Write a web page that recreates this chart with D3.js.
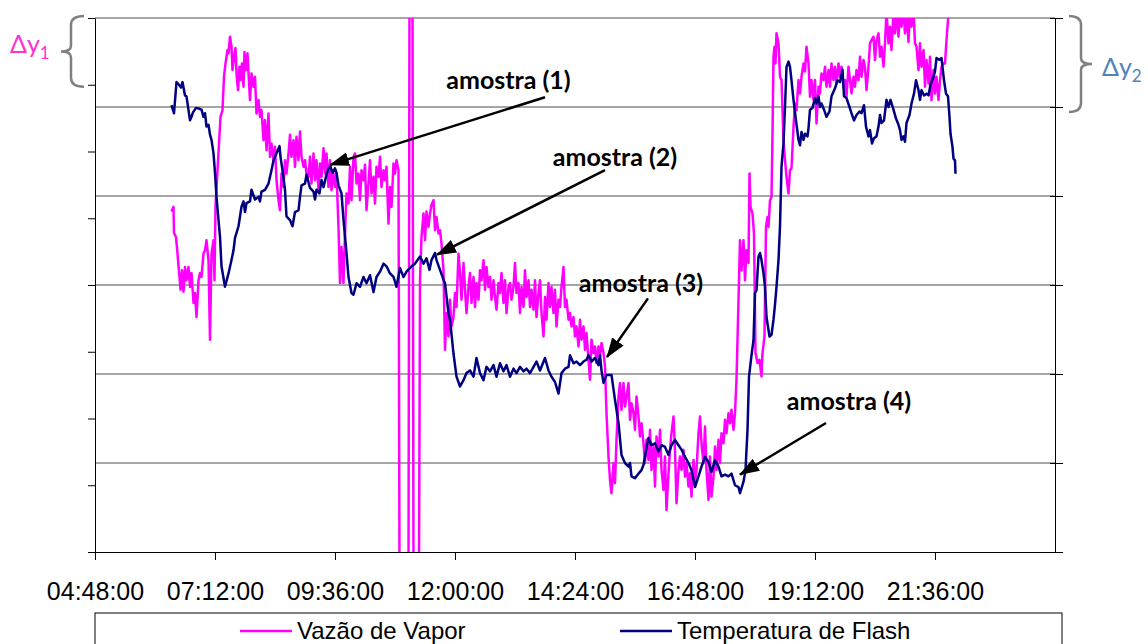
<!DOCTYPE html>
<html lang="pt">
<head>
<meta charset="UTF-8">
<script src="https://d3js.org/d3.v7.min.js"></script>
<style>
    body { margin: 0; background: #fff; }
    svg text { font-family: "Liberation Sans", Arial, sans-serif; fill: #000; }
    .nota { font-family: Lato, "Open Sans", sans-serif; font-weight: bold; font-size: 25px; }
    .delta { font-family: Lato, "Open Sans", sans-serif; font-size: 25px; }
</style>
</head>
<body>
<svg id="chart"></svg>
<script>
// eixo do tempo (horas decimais)
const horaTicks = [4.8, 7.2, 9.6, 12, 14.4, 16.8, 19.2, 21.6];
const rotulosHora = ["04:48:00", "07:12:00", "09:36:00", "12:00:00", "14:24:00", "16:48:00", "19:12:00", "21:36:00"];

// Vazão de Vapor [hora, valor] - eixo esquerdo
const vazao = [[6.33,5.10],[6.37,5.17],[6.38,4.78],[6.42,4.72],[6.45,4.47],[6.49,4.12],[6.51,3.93],[6.54,4.22],[6.57,3.90],[6.60,4.27],[6.63,4.07],[6.67,4.27],[6.70,3.97],[6.73,4.18],[6.77,3.73],[6.80,3.88],[6.83,3.52],[6.87,4.07],[6.90,4.18],[6.93,4.12],[6.97,4.47],[7.00,4.52],[7.03,4.67],[7.07,4.37],[7.10,3.18],[7.13,4.47],[7.17,4.67],[7.19,4.07],[7.21,5.17],[7.25,5.72],[7.28,6.12],[7.31,6.52],[7.35,6.62],[7.38,7.12],[7.41,7.32],[7.45,7.52],[7.47,7.47],[7.50,7.72],[7.53,7.57],[7.55,7.22],[7.58,7.42],[7.61,7.55],[7.63,7.17],[7.66,6.92],[7.69,7.27],[7.71,7.07],[7.74,7.32],[7.77,6.97],[7.79,7.49],[7.82,7.22],[7.85,7.47],[7.87,7.17],[7.90,6.77],[7.93,7.17],[7.97,6.97],[8.00,7.12],[8.03,6.57],[8.07,6.77],[8.10,6.52],[8.13,6.62],[8.17,6.17],[8.20,6.47],[8.23,6.02],[8.27,6.57],[8.30,5.92],[8.33,6.12],[8.37,5.87],[8.40,6.07],[8.43,5.57],[8.47,5.27],[8.50,5.12],[8.53,5.67],[8.57,5.47],[8.60,5.87],[8.63,5.67],[8.67,5.97],[8.70,6.25],[8.73,5.92],[8.77,6.17],[8.80,5.77],[8.83,6.22],[8.87,5.87],[8.90,6.30],[8.93,5.92],[8.97,5.77],[9.00,5.87],[9.03,5.67],[9.07,5.62],[9.10,5.92],[9.13,5.52],[9.17,5.97],[9.20,5.57],[9.23,5.87],[9.27,5.42],[9.30,5.82],[9.33,5.62],[9.37,6.05],[9.40,5.67],[9.43,5.97],[9.47,5.47],[9.50,5.87],[9.53,5.42],[9.57,5.67],[9.60,5.47],[9.63,5.67],[9.67,4.87],[9.70,4.03],[9.73,4.57],[9.77,4.03],[9.80,4.77],[9.83,5.37],[9.87,5.22],[9.90,5.77],[9.93,5.27],[9.97,5.92],[10.00,5.97],[10.03,5.52],[10.07,5.67],[10.10,5.27],[10.13,5.72],[10.17,5.57],[10.20,5.80],[10.23,5.12],[10.27,5.52],[10.30,5.87],[10.33,5.37],[10.37,5.62],[10.40,5.22],[10.43,5.77],[10.47,5.62],[10.50,5.92],[10.53,5.47],[10.57,5.72],[10.60,5.57],[10.63,5.77],[10.67,4.92],[10.70,5.47],[10.73,5.17],[10.77,5.82],[10.80,5.67],[10.83,5.87],[10.87,5.72],[10.89,-0.3],[11.07,-0.3],[11.09,8.3],[11.15,8.3],[11.17,-0.3],[11.28,-0.3],[11.30,4.07],[11.33,4.72],[11.37,5.07],[11.40,4.67],[11.43,5.10],[11.47,4.87],[11.50,5.07],[11.53,5.20],[11.57,5.27],[11.60,4.82],[11.63,5.02],[11.67,4.77],[11.70,4.82],[11.73,4.62],[11.77,4.22],[11.80,3.03],[11.83,3.58],[11.87,3.23],[11.90,3.78],[11.93,3.38],[11.97,3.52],[12.00,3.88],[12.03,3.67],[12.07,4.47],[12.10,4.18],[12.13,3.78],[12.17,4.33],[12.20,3.93],[12.23,3.58],[12.27,3.97],[12.30,4.18],[12.33,3.73],[12.37,4.12],[12.40,3.67],[12.43,4.03],[12.47,3.78],[12.50,4.22],[12.53,4.07],[12.57,4.37],[12.60,3.93],[12.63,4.27],[12.67,3.97],[12.70,4.12],[12.73,3.78],[12.77,4.07],[12.80,3.82],[12.83,3.63],[12.87,4.03],[12.90,3.88],[12.93,4.18],[12.97,3.73],[13.00,4.07],[13.03,3.58],[13.07,3.97],[13.10,4.03],[13.13,3.78],[13.17,3.97],[13.20,4.33],[13.23,3.88],[13.27,4.03],[13.30,3.58],[13.33,3.97],[13.37,3.67],[13.40,4.22],[13.43,3.82],[13.47,4.07],[13.50,3.67],[13.53,3.93],[13.57,3.63],[13.60,4.07],[13.63,3.52],[13.67,3.88],[13.70,4.07],[13.73,3.58],[13.77,3.23],[13.80,3.82],[13.83,3.48],[13.87,4.03],[13.90,3.67],[13.93,3.97],[13.97,3.58],[14.00,3.93],[14.03,3.38],[14.07,3.78],[14.10,3.67],[14.13,3.97],[14.17,4.27],[14.20,3.67],[14.23,3.78],[14.27,3.48],[14.30,3.58],[14.33,3.38],[14.37,3.52],[14.40,3.23],[14.43,3.38],[14.47,3.08],[14.50,3.48],[14.53,3.18],[14.57,3.38],[14.60,3.03],[14.63,3.28],[14.67,2.88],[14.70,2.58],[14.73,3.18],[14.77,2.98],[14.80,3.08],[14.83,2.83],[14.87,3.08],[14.90,2.93],[14.93,3.13],[14.97,2.98],[15.00,2.78],[15.03,2.08],[15.07,1.43],[15.10,1.08],[15.13,0.88],[15.17,1.33],[15.20,1.03],[15.23,1.68],[15.27,2.33],[15.30,2.53],[15.33,2.13],[15.37,2.53],[15.40,2.18],[15.43,2.33],[15.47,2.53],[15.50,1.98],[15.53,2.23],[15.57,2.08],[15.60,1.83],[15.63,2.33],[15.67,2.03],[15.70,1.73],[15.73,1.93],[15.77,1.63],[15.80,1.33],[15.83,1.68],[15.87,1.38],[15.90,1.83],[15.93,1.23],[15.97,1.58],[16.00,0.98],[16.03,1.73],[16.07,1.43],[16.10,1.83],[16.13,1.23],[16.17,0.93],[16.20,1.43],[16.23,0.63],[16.27,1.18],[16.30,1.53],[16.33,1.78],[16.37,2.03],[16.40,1.53],[16.43,0.73],[16.47,1.23],[16.50,1.43],[16.53,1.23],[16.57,1.53],[16.60,1.13],[16.63,1.33],[16.67,0.98],[16.70,1.18],[16.73,0.83],[16.77,1.38],[16.80,1.03],[16.83,1.23],[16.87,1.78],[16.90,2.03],[16.93,1.63],[16.97,1.33],[17.00,1.88],[17.03,1.23],[17.07,0.78],[17.10,1.43],[17.13,0.83],[17.17,1.13],[17.20,1.58],[17.23,1.23],[17.27,1.68],[17.30,1.33],[17.33,1.78],[17.37,1.63],[17.40,1.98],[17.43,1.78],[17.47,2.08],[17.50,1.93],[17.53,2.13],[17.57,1.83],[17.60,2.08],[17.63,2.58],[17.70,4.67],[17.73,4.22],[17.77,4.67],[17.80,4.07],[17.83,4.52],[17.87,4.33],[17.89,5.67],[17.91,5.17],[17.95,5.07],[17.98,4.77],[18.01,2.98],[18.05,2.83],[18.09,2.88],[18.13,2.63],[18.15,2.98],[18.19,3.23],[18.22,4.87],[18.25,5.02],[18.27,4.87],[18.30,5.27],[18.33,5.32],[18.35,6.27],[18.37,7.42],[18.39,7.57],[18.41,7.32],[18.43,7.77],[18.47,7.62],[18.50,7.12],[18.53,7.07],[18.57,6.17],[18.60,5.87],[18.63,5.62],[18.67,5.37],[18.70,5.72],[18.73,5.75],[18.77,6.37],[18.80,6.72],[18.83,6.62],[18.87,7.07],[18.90,6.87],[18.93,7.12],[18.97,7.32],[19.00,7.20],[19.03,7.57],[19.07,7.32],[19.10,6.82],[19.13,7.07],[19.17,6.77],[19.20,7.07],[19.23,6.42],[19.27,6.97],[19.30,6.87],[19.33,7.17],[19.37,7.07],[19.40,7.27],[19.43,6.97],[19.47,7.22],[19.50,6.97],[19.53,7.32],[19.57,7.07],[19.60,7.27],[19.63,7.02],[19.67,7.32],[19.70,7.12],[19.73,7.27],[19.77,6.97],[19.80,7.07],[19.83,6.82],[19.87,7.27],[19.90,7.07],[19.93,6.87],[19.97,7.12],[20.00,6.97],[20.03,7.22],[20.07,7.07],[20.10,7.42],[20.13,7.12],[20.17,7.37],[20.20,7.27],[20.23,6.92],[20.27,7.27],[20.30,7.62],[20.33,7.67],[20.37,7.72],[20.40,7.37],[20.43,7.67],[20.47,7.77],[20.50,7.42],[20.53,7.57],[20.57,7.27],[20.60,7.62],[20.63,8.10],[20.67,7.62],[20.70,7.87],[20.73,7.52],[20.77,8.10],[20.80,7.77],[20.83,8.10],[20.87,7.72],[20.90,8.10],[20.93,7.87],[20.97,8.10],[21.00,7.77],[21.03,8.10],[21.07,7.64],[21.10,8.10],[21.13,7.87],[21.17,8.10],[21.20,7.62],[21.23,7.57],[21.27,7.22],[21.30,7.62],[21.33,7.27],[21.37,7.52],[21.40,6.97],[21.43,7.37],[21.47,7.02],[21.50,7.42],[21.53,6.77],[21.57,7.22],[21.60,6.87],[21.63,7.12],[21.67,6.77],[21.70,7.07],[21.73,7.27],[21.77,7.32],[21.80,7.32],[21.83,7.67],[21.86,7.97],[21.89,8.27]];

// Temperatura de Flash [hora, valor] - eixo direito
const temperatura = [[6.33,5.02],[6.38,4.93],[6.43,5.28],[6.48,5.25],[6.52,5.22],[6.55,5.28],[6.60,5.13],[6.63,5.12],[6.70,4.85],[6.73,4.89],[6.76,4.94],[6.82,4.99],[6.89,4.98],[6.93,4.97],[6.97,4.89],[7.00,4.93],[7.03,4.78],[7.07,4.80],[7.10,4.69],[7.13,4.63],[7.17,4.48],[7.20,4.26],[7.23,3.99],[7.27,3.73],[7.30,3.54],[7.33,3.21],[7.40,2.98],[7.47,3.13],[7.53,3.28],[7.57,3.39],[7.60,3.53],[7.67,3.66],[7.70,3.77],[7.73,3.88],[7.77,3.94],[7.80,3.82],[7.83,3.92],[7.90,3.94],[7.93,4.07],[8.00,3.96],[8.07,3.99],[8.10,3.94],[8.13,4.05],[8.20,4.07],[8.27,4.14],[8.33,4.29],[8.37,4.40],[8.43,4.48],[8.49,4.56],[8.51,4.44],[8.55,4.29],[8.60,4.07],[8.63,3.77],[8.70,3.73],[8.75,3.66],[8.80,3.82],[8.87,3.84],[8.90,3.99],[8.93,4.12],[9.00,4.14],[9.03,4.24],[9.10,4.09],[9.17,4.05],[9.20,3.96],[9.23,4.07],[9.29,4.03],[9.33,4.18],[9.37,4.10],[9.43,4.24],[9.47,4.31],[9.51,4.33],[9.55,4.26],[9.60,4.31],[9.63,4.26],[9.67,4.12],[9.73,4.03],[9.77,3.73],[9.83,3.36],[9.87,3.09],[9.93,2.91],[9.97,2.89],[10.03,3.02],[10.10,2.98],[10.17,3.09],[10.23,3.02],[10.30,3.11],[10.37,2.92],[10.43,3.09],[10.50,3.15],[10.57,3.24],[10.63,3.21],[10.70,3.13],[10.77,3.09],[10.83,2.98],[10.90,3.19],[10.97,3.09],[11.03,3.15],[11.13,3.21],[11.20,3.24],[11.30,3.32],[11.37,3.24],[11.43,3.30],[11.49,3.17],[11.53,3.28],[11.60,3.36],[11.63,3.28],[11.70,3.17],[11.77,3.06],[11.80,3.02],[11.87,2.68],[11.90,2.61],[11.97,2.23],[12.03,1.97],[12.10,1.86],[12.17,1.93],[12.23,2.01],[12.30,2.04],[12.37,1.97],[12.43,2.18],[12.50,2.01],[12.57,1.93],[12.63,2.08],[12.70,2.03],[12.77,2.10],[12.83,1.97],[12.90,2.12],[12.97,2.03],[13.03,2.10],[13.10,1.97],[13.17,2.06],[13.23,2.01],[13.30,2.08],[13.37,2.03],[13.43,2.06],[13.50,2.01],[13.57,2.08],[13.63,2.14],[13.70,2.04],[13.80,2.18],[13.87,2.04],[13.93,1.97],[14.00,1.91],[14.07,1.78],[14.13,2.01],[14.20,2.06],[14.27,2.08],[14.30,2.21],[14.37,2.12],[14.43,2.14],[14.50,2.10],[14.57,2.14],[14.63,2.16],[14.67,2.21],[14.73,2.14],[14.80,2.18],[14.87,2.10],[14.90,2.21],[14.93,2.04],[14.97,1.90],[15.03,1.99],[15.13,1.99],[15.20,1.71],[15.27,1.45],[15.33,1.09],[15.40,1.00],[15.47,0.96],[15.50,1.00],[15.53,0.85],[15.60,0.83],[15.67,0.88],[15.73,0.92],[15.77,0.98],[15.80,1.07],[15.83,1.17],[15.87,1.28],[15.93,1.20],[16.00,1.22],[16.07,1.13],[16.13,1.20],[16.20,1.18],[16.27,1.09],[16.33,1.20],[16.40,1.26],[16.47,1.20],[16.53,1.15],[16.60,1.07],[16.67,1.00],[16.73,0.92],[16.80,0.73],[16.87,0.85],[16.93,0.96],[17.00,1.07],[17.07,1.01],[17.13,0.90],[17.20,1.03],[17.27,0.96],[17.33,0.85],[17.40,0.87],[17.47,0.85],[17.53,0.88],[17.60,0.75],[17.67,0.73],[17.70,0.66],[17.77,0.79],[17.81,0.92],[17.85,1.37],[17.88,1.97],[17.93,2.21],[17.97,2.38],[18.00,2.91],[18.03,2.94],[18.07,3.32],[18.10,3.36],[18.13,3.28],[18.17,3.13],[18.20,2.98],[18.23,2.64],[18.29,2.42],[18.33,2.44],[18.37,2.61],[18.40,2.78],[18.43,2.98],[18.47,3.28],[18.50,3.66],[18.53,4.33],[18.57,4.59],[18.60,5.00],[18.63,5.45],[18.67,5.51],[18.70,5.45],[18.73,5.30],[18.77,5.08],[18.82,4.85],[18.87,4.63],[18.90,4.57],[18.93,4.72],[18.97,4.63],[19.00,4.70],[19.05,4.67],[19.07,4.76],[19.10,4.97],[19.15,4.99],[19.20,5.10],[19.23,5.04],[19.27,5.12],[19.30,5.00],[19.33,5.04],[19.38,4.97],[19.43,4.89],[19.49,4.95],[19.53,5.12],[19.60,5.21],[19.65,5.30],[19.70,5.28],[19.75,5.42],[19.78,5.12],[19.83,5.10],[19.89,5.00],[19.93,4.93],[19.98,4.85],[20.03,4.91],[20.09,4.95],[20.13,4.93],[20.18,5.02],[20.22,4.78],[20.27,4.67],[20.30,4.74],[20.34,4.59],[20.38,4.65],[20.43,4.67],[20.47,4.78],[20.50,4.91],[20.53,4.82],[20.58,4.85],[20.63,5.08],[20.67,5.00],[20.71,5.08],[20.77,4.97],[20.82,4.87],[20.87,4.80],[20.90,4.74],[20.93,4.63],[20.97,4.67],[21.00,4.61],[21.03,4.82],[21.09,4.91],[21.13,5.04],[21.18,5.15],[21.22,5.30],[21.27,5.19],[21.30,5.08],[21.33,5.19],[21.38,5.13],[21.43,5.15],[21.47,5.13],[21.51,5.25],[21.57,5.34],[21.60,5.40],[21.63,5.55],[21.69,5.53],[21.73,5.55],[21.78,5.30],[21.82,5.15],[21.86,5.12],[21.89,4.89],[21.91,4.70],[21.95,4.55],[21.97,4.42],[22.00,4.40],[22.01,4.25]];

// anotações: ponta da seta, início da seta e texto (hora, valor no eixo direito)
const amostras = [
    { nome: "amostra (1)", ponta: [9.50, 4.35], inicio: [13.80, 5.11], texto: [13.07, 5.30] },
    { nome: "amostra (2)", ponta: [11.64, 3.34], inicio: [15.00, 4.29], texto: [15.20, 4.43] },
    { nome: "amostra (3)", ponta: [15.04, 2.19], inicio: [15.86, 2.85], texto: [15.72, 3.02] },
    { nome: "amostra (4)", ponta: [17.70, 0.87], inicio: [19.42, 1.45], texto: [19.88, 1.69] }
];

const series = [
    { nome: "Vazão de Vapor", cor: "#FF00FF" },
    { nome: "Temperatura de Flash", cor: "#000080" }
];

const W = 1148, H = 644;
const margin = { top: 18, right: 93, bottom: 92, left: 95 };

const svg = d3.select("#chart").attr("width", W).attr("height", H);

const x = d3.scaleLinear().domain([4.8, 24]).range([margin.left, W - margin.right]);
const yVazao = d3.scaleLinear().domain([0, 8]).range([H - margin.bottom, margin.top]);
const yTemp = d3.scaleLinear().domain([0, 6]).range([H - margin.bottom, margin.top]);

// linhas de grade (eixo direito)
svg.append("g")
    .selectAll("line")
    .data(d3.range(1, 7))
    .enter()
    .append("line")
    .attr("x1", x(4.8)).attr("x2", x(24))
    .attr("y1", d => yTemp(d)).attr("y2", d => yTemp(d))
    .attr("stroke", "#A6A6A6")
    .attr("stroke-width", 2);

svg.append("defs").append("clipPath").attr("id", "area")
    .append("rect")
    .attr("x", x(4.8)).attr("y", yVazao(8))
    .attr("width", x(24) - x(4.8)).attr("height", yVazao(0) - yVazao(8));

const plot = svg.append("g").attr("clip-path", "url(#area)");

plot.append("path")
    .datum(vazao)
    .attr("fill", "none")
    .attr("stroke", series[0].cor)
    .attr("stroke-width", 2.5)
    .attr("stroke-linejoin", "round")
    .attr("d", d3.line().x(d => x(d[0])).y(d => yVazao(d[1])));

plot.append("path")
    .datum(temperatura)
    .attr("fill", "none")
    .attr("stroke", series[1].cor)
    .attr("stroke-width", 2.5)
    .attr("stroke-linejoin", "round")
    .attr("d", d3.line().x(d => x(d[0])).y(d => yTemp(d[1])));

// eixos
const eixoX = svg.append("g")
    .attr("transform", `translate(0,${yVazao(0)})`)
    .call(d3.axisBottom(x).tickValues(horaTicks).tickFormat((d, i) => rotulosHora[i]).tickSize(8).tickSizeOuter(0).tickPadding(22));
eixoX.selectAll("text").style("font-size", "25px").attr("font-family", "Liberation Sans, Arial, sans-serif");

const eixoE = svg.append("g")
    .attr("transform", `translate(${x(4.8)},0)`)
    .call(d3.axisLeft(yVazao).tickValues(d3.range(0, 9)).tickFormat("").tickSize(7).tickSizeOuter(0));

const eixoD = svg.append("g")
    .attr("transform", `translate(${x(24)},0)`)
    .call(d3.axisRight(yTemp).tickValues(d3.range(0, 7)).tickFormat("").tickSize(8).tickSizeOuter(0));
eixoD.selectAll(".tick line").attr("x1", -5);

svg.selectAll(".domain, .tick line").attr("stroke", "#000").attr("stroke-width", 1);

// setas e textos das amostras
svg.append("defs").append("marker")
    .attr("id", "seta")
    .attr("viewBox", "0 0 20 14")
    .attr("refX", 19).attr("refY", 7)
    .attr("markerWidth", 20).attr("markerHeight", 14)
    .attr("markerUnits", "userSpaceOnUse")
    .attr("orient", "auto")
    .append("path")
    .attr("d", "M0,0 L20,7 L0,14 Z")
    .attr("fill", "#000");

svg.selectAll(".seta")
    .data(amostras)
    .enter()
    .append("line")
    .attr("class", "seta")
    .attr("x1", d => x(d.inicio[0])).attr("y1", d => yTemp(d.inicio[1]))
    .attr("x2", d => x(d.ponta[0])).attr("y2", d => yTemp(d.ponta[1]))
    .attr("stroke", "#000")
    .attr("stroke-width", 2.5)
    .attr("marker-end", "url(#seta)");

svg.selectAll(".nota")
    .data(amostras)
    .enter()
    .append("text")
    .attr("class", "nota")
    .attr("x", d => x(d.texto[0]))
    .attr("y", d => yTemp(d.texto[1]))
    .attr("dy", "0.35em")
    .attr("text-anchor", "middle")
    .text(d => d.nome);

// chaves e Δy
function chave(xPonta, xMeio, xTopo, y0, y1) {
    const ym = (y0 + y1) / 2;
    return `M${xPonta},${y0} Q${xMeio},${y0} ${xMeio},${y0 + 9} L${xMeio},${ym - 6} Q${xMeio},${ym} ${xTopo},${ym} ` +
           `Q${xMeio},${ym} ${xMeio},${ym + 6} L${xMeio},${y1 - 9} Q${xMeio},${y1} ${xPonta},${y1}`;
}

svg.append("path")
    .attr("d", chave(84, 71, 61, yVazao(8) - 2, yVazao(7) + 2))
    .attr("fill", "none").attr("stroke", "#808080").attr("stroke-width", 2.5);

svg.append("path")
    .attr("d", chave(1069, 1081, 1092, yTemp(6) - 2, yTemp(5) + 5))
    .attr("fill", "none").attr("stroke", "#808080").attr("stroke-width", 2.5);

const d1 = svg.append("text").attr("class", "delta").attr("x", 10).attr("y", 53).style("fill", "#FF33CC");
d1.append("tspan").text("Δy");
d1.append("tspan").attr("dy", 6).style("font-size", "17px").text("1");

const d2 = svg.append("text").attr("class", "delta").attr("x", 1102).attr("y", 76).style("fill", "#4F81BD");
d2.append("tspan").text("Δy");
d2.append("tspan").attr("dy", 6).style("font-size", "17px").text("2");

// legenda
const legY = 631;
svg.append("rect")
    .attr("x", x(4.8)).attr("y", 613)
    .attr("width", 967).attr("height", 60)
    .attr("fill", "none").attr("stroke", "#000").attr("stroke-width", 1);

const legX = [240, 620];
const leg = svg.selectAll(".leg")
    .data(series)
    .enter()
    .append("g")
    .attr("class", "leg")
    .attr("transform", (d, i) => `translate(${legX[i]},${legY})`);

leg.append("line")
    .attr("x1", 0).attr("x2", 52)
    .attr("stroke", d => d.cor).attr("stroke-width", 2.5);

leg.append("text")
    .attr("x", 57).attr("dy", "0.35em")
    .style("font-size", "24px")
    .text(d => d.nome);
</script>
</body>
</html>
